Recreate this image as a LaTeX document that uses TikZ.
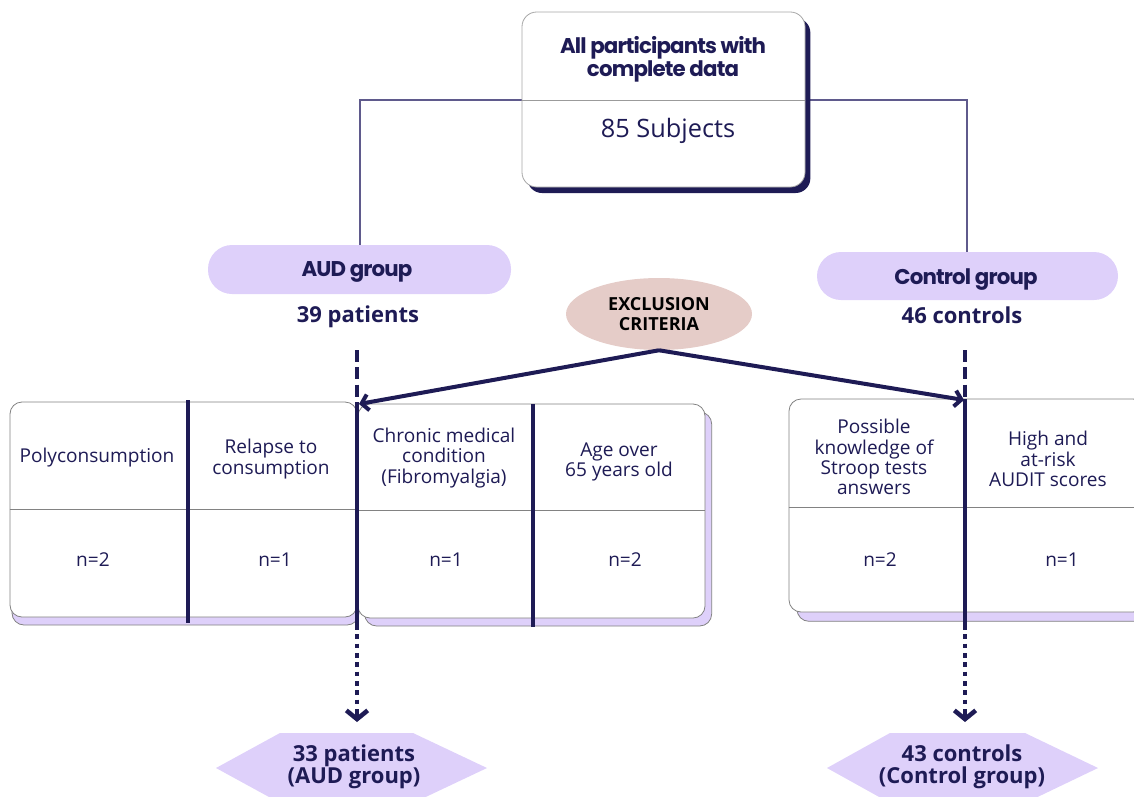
\documentclass[tikz,border=0pt]{standalone}
\usepackage{fontspec}
\setmainfont{Open Sans}
\newfontfamily\pop{Poppins}[LetterSpace=-4]
\usetikzlibrary{arrows.meta,shadows,shapes.geometric}
\definecolor{navy}{RGB}{30,27,85}
\definecolor{lav}{RGB}{222,208,250}
\definecolor{rose}{RGB}{229,204,200}
\definecolor{bgray}{RGB}{130,130,130}
\definecolor{linkc}{RGB}{95,90,140}
\tikzset{
  lbl/.style={font=\fontsize{14.3}{15.2}\selectfont, text=navy, align=center, inner sep=0pt},
  blbl/.style={font=\bfseries\fontsize{16.5}{16.5}\selectfont, text=navy, align=center, inner sep=0pt},
  head/.style={font=\pop\bfseries\fontsize{16}{17}\selectfont, text=navy, align=center, inner sep=0pt},
  pill/.style={fill=lav, rounded corners=18pt, draw=none, inner sep=0pt},
  tbl/.style={draw=bgray, line width=0.6pt, fill=white, rounded corners=9pt, inner sep=0pt},
  colline/.style={navy, line width=3.2pt},
  divline/.style={bgray, line width=0.6pt},
  excarrow/.style={navy, line width=3pt, -{Straight Barb[length=5pt,width=12pt]}},
  dashpart/.style={navy, line width=3pt, dash pattern=on 9pt off 4pt},
  dotpart/.style={navy, line width=3pt, dash pattern=on 3.5pt off 3.5pt},
  endtip/.style={navy, line width=3.4pt, -{Straight Barb[length=6.5pt,width=16pt]}},
  hexfill/.style={fill=lav, draw=none},
}
\begin{document}
\begin{tikzpicture}[x=0.75pt,y=-0.75pt]
\useasboundingbox (0,0) rectangle (1134,796);
\clip (0,0) rectangle (1134,796);

% pills and top box
\node[pill, minimum width=227.25pt, minimum height=36.75pt] (audpill) at (359.5,269.5) {};
\node[pill, minimum width=225.75pt, minimum height=36pt] (ctlpill) at (967.5,276) {};
\coordinate (hl) at (360,100);
\coordinate (hr) at (967,100);
\draw[linkc, line width=1.3pt] (audpill.north -| hl) -- (hl) -- (hr) -- (ctlpill.north -| hr);

\node[draw=bgray!70, line width=0.6pt, fill=white, rounded corners=11pt,
      minimum width=212.25pt, minimum height=131.25pt,
      general shadow={fill=navy, shadow xshift=4pt, shadow yshift=-4.5pt}] (top) at (663.5,99.5) {};
\draw[bgray!80, line width=0.6pt] (top.west |- hl) -- (top.east |- hl);
\node[head] (toptitle) at (663,59) {All participants with\\complete data};
\node[font=\fontsize{19}{20}\selectfont, text=navy, inner sep=0pt] (subj) at (668,131) {85 Subjects};

\node[head, anchor=base] (audt) at (357,276) {AUD group};
\node[head, anchor=base] (ctlt) at (966,284) {Control group};
\node[blbl, anchor=base] (p39) at (358,322) {39 patients};
\node[blbl, anchor=base] (c46) at (962,323) {46 controls};

% exclusion
\node[ellipse, fill=rose, minimum width=139.5pt, minimum height=54pt, inner sep=0pt,
      font=\bfseries\fontsize{13.5}{15}\selectfont, align=center] (excl) at (659,314) {EXCLUSION\\CRITERIA};

% tables
\node[tbl, minimum width=260.25pt, minimum height=161.25pt,
      general shadow={fill=lav, draw=bgray, line width=0.6pt, shadow xshift=1.5pt, shadow yshift=-6pt}] (t1) at (183.5,509.5) {};
\node[tbl, minimum width=260.25pt, minimum height=160.5pt,
      general shadow={fill=lav, draw=bgray, line width=0.6pt, shadow xshift=5pt, shadow yshift=-6pt}] (t2) at (531.5,511) {};
\node[tbl, minimum width=267pt, minimum height=159.75pt,
      general shadow={fill=lav, draw=bgray, line width=0.6pt, shadow xshift=6pt, shadow yshift=-7pt}] (t3) at (967,505.5) {};
\draw[divline] (t1.west |- 0,509) -- (t1.east |- 0,509);
\draw[divline] (t2.west |- 0,510) -- (t2.east |- 0,510);
\draw[divline] (t3.west |- 0,507) -- (t3.east |- 0,507);

\draw[colline] (188,400) -- (188,623);
\draw[colline] (533,404) -- (533,627);

\node[lbl] (c1) at (97,458) {Polyconsumption};
\node[lbl] (c2) at (271,459) {Relapse to\\consumption};
\node[lbl] (c3) at (444,458) {Chronic medical\\condition\\(Fibromyalgia)};
\node[lbl] (c4) at (619,462) {Age over\\65 years old};
\node[lbl] (c5) at (874,457) {Possible\\knowledge of\\Stroop tests\\answers};
\node[lbl] (c6) at (1048,459) {High and\\at-risk\\AUDIT scores};
\node[lbl] (n1) at (93,560) {n=2};
\node[lbl] (n2) at (275,560) {n=1};
\node[lbl] (n3) at (446,560) {n=1};
\node[lbl] (n4) at (625,560) {n=2};
\node[lbl] (n5) at (880,560) {n=2};
\node[lbl] (n6) at (1062,560) {n=1};

% hexagons
\fill[hexfill] (280,733) -- (413,733) -- (487,768) -- (413,803) -- (280,803) -- (216,768) -- cycle;
\fill[hexfill] (890,733) -- (1025,733) -- (1098,768) -- (1025,803) -- (890,803) -- (827,768) -- cycle;
\node[blbl] (fin1) at (354,767) {33 patients\\(AUD group)};
\node[blbl] (fin2) at (962,767) {43 controls\\(Control group)};

% flow lines
\coordinate (aL0) at (357,350);
\coordinate (aL1) at (357,402);
\coordinate (aL2) at (357,625);
\coordinate (aL3) at (357,712);
\coordinate (aL4) at (357,722);
\coordinate (aR0) at (965,350);
\coordinate (aR1) at (965,399);
\coordinate (aR2) at (965,625);
\coordinate (aR3) at (965,712);
\coordinate (aR4) at (965,722);
\draw[dashpart] (aL0) -- (aL1);
\draw[colline] (aL1) -- (aL2);
\draw[dotpart] (aL2) -- (aL3);
\draw[endtip] (aL3) -- (aL4);
\draw[dashpart] (aR0) -- (aR1);
\draw[colline] (aR1) -- (aR2);
\draw[dotpart] (aR2) -- (aR3);
\draw[endtip] (aR3) -- (aR4);

\draw[excarrow] (excl.south) -- (359,404);
\draw[excarrow] (excl.south) -- (964,400);
\end{tikzpicture}
\end{document}
